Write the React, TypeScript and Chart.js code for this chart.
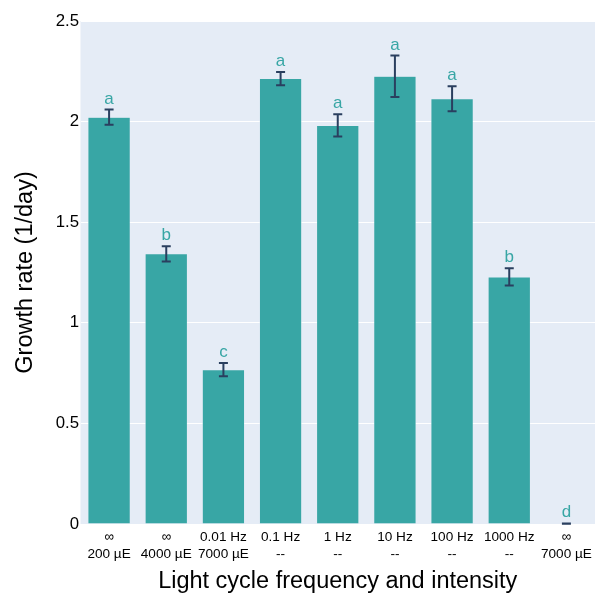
import React, { useEffect, useRef } from "react";
import { Chart, registerables } from "chart.js";

Chart.register(...registerables);

const categories: string[][] = [
  ["∞", "200 µE"],
  ["∞", "4000 µE"],
  ["0.01 Hz", "7000 µE"],
  ["0.1 Hz", "--"],
  ["1 Hz", "--"],
  ["10 Hz", "--"],
  ["100 Hz", "--"],
  ["1000 Hz", "--"],
  ["∞", "7000 µE"],
];
const growthRates: number[] = [2.022, 1.343, 0.767, 2.214, 1.981, 2.225, 2.114, 1.228, 0.002];
const errors: number[] = [0.038, 0.038, 0.033, 0.033, 0.055, 0.103, 0.062, 0.043, 0.001];
const letters: string[] = ["a", "b", "c", "a", "a", "a", "a", "b", "d"];
const yTicks: number[] = [0, 0.5, 1, 1.5, 2, 2.5];

const FONT = "'Liberation Sans', Arial, sans-serif";
const BAR = "#38a6a5";
const ERR = "#2a3f5f";

const bgPlugin = {
  id: "plotBg",
  beforeDraw(chart: any) {
    const { ctx, chartArea } = chart;
    ctx.save();
    ctx.fillStyle = "#e5ecf6";
    ctx.fillRect(chartArea.left, chartArea.top, chartArea.right - chartArea.left, chartArea.bottom - chartArea.top);
    ctx.restore();
  },
};

const errPlugin = {
  id: "errLetters",
  afterDatasetsDraw(chart: any) {
    const { ctx } = chart;
    const meta = chart.getDatasetMeta(0);
    const ys = chart.scales.y;
    ctx.save();
    meta.data.forEach((bar: any, i: number) => {
      const x = bar.x;
      const top = ys.getPixelForValue(growthRates[i] + errors[i]);
      const bot = ys.getPixelForValue(Math.max(0, growthRates[i] - errors[i]));
      ctx.strokeStyle = ERR;
      ctx.lineWidth = 2;
      ctx.beginPath();
      ctx.moveTo(x, top);
      ctx.lineTo(x, bot);
      ctx.moveTo(x - 4.5, top);
      ctx.lineTo(x + 4.5, top);
      ctx.moveTo(x - 4.5, bot);
      ctx.lineTo(x + 4.5, bot);
      ctx.stroke();
      ctx.fillStyle = BAR;
      ctx.font = `17px ${FONT}`;
      ctx.textAlign = "center";
      ctx.textBaseline = "alphabetic";
      ctx.fillText(letters[i], x, top - 6);
    });
    ctx.restore();
  },
};

export default function App() {
  const ref = useRef<HTMLCanvasElement | null>(null);
  useEffect(() => {
    if (!ref.current) return;
    const chart = new Chart(ref.current, {
      type: "bar",
      data: {
        labels: categories,
        datasets: [
          {
            data: growthRates,
            backgroundColor: BAR,
            borderColor: "#e5ecf6",
            borderWidth: 0.5,
            barPercentage: 0.74,
            categoryPercentage: 1.0,
          },
        ],
      },
      options: {
        animation: false,
        responsive: true,
        maintainAspectRatio: false,
        layout: { padding: { top: 21, right: 0, left: 0, bottom: 0 } },
        plugins: { legend: { display: false }, tooltip: { enabled: false } },
        scales: {
          x: {
            grid: { display: false },
            border: { display: false },
            ticks: {
              color: "#000",
              font: { family: FONT, size: 13.6, lineHeight: 1.3 },
              padding: -4,
              maxRotation: 0,
              autoSkip: false,
            },
            title: {
              display: true,
              text: "Light cycle frequency and intensity",
              color: "#000",
              font: { family: FONT, size: 23.5, lineHeight: 1.2 },
              padding: { top: 0, bottom: 1.5 },
            },
            afterFit(scale: any) {
              scale.height = 73;
            },
          },
          y: {
            min: 0,
            max: 2.5,
            afterBuildTicks(scale: any) {
              scale.ticks = yTicks.map((v) => ({ value: v }));
            },
            grid: { color: "#ffffff", lineWidth: 1, drawTicks: false },
            border: { display: false },
            ticks: {
              color: "#000",
              font: { family: FONT, size: 16.8 },
              padding: 1.5,
              callback: (v: any) => `${v}`,
            },
            title: {
              display: true,
              text: "Growth rate (1/day)",
              color: "#000",
              font: { family: FONT, size: 23.5, lineHeight: 1.2 },
              padding: { top: 11, bottom: 0 },
            },
            afterFit(scale: any) {
              scale.width = 80.5;
            },
          },
        },
      },
      plugins: [bgPlugin, errPlugin],
    });
    return () => chart.destroy();
  }, []);
  return (
    <div style={{ position: "fixed", left: 0, top: 0, width: 595, height: 597, background: "#fff" }}>
      <canvas ref={ref} />
    </div>
  );
}
